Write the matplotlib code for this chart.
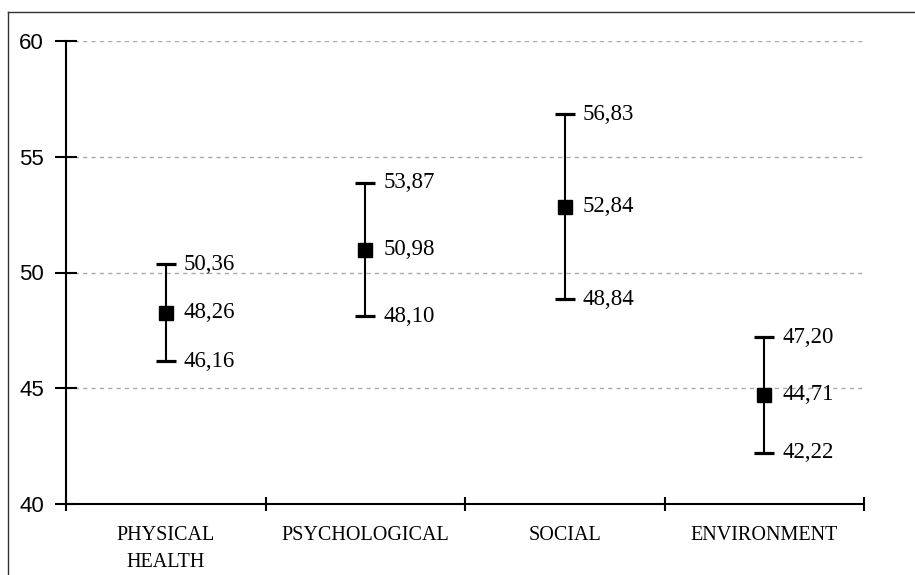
import numpy as np
import matplotlib.pyplot as plt
from matplotlib.lines import Line2D

categories = ['PHYSICAL\nHEALTH', 'PSYCHOLOGICAL', 'SOCIAL', 'ENVIRONMENT']
means = [48.26, 50.98, 52.84, 44.71]
upper = [50.36, 53.87, 56.83, 47.20]
lower = [46.16, 48.10, 48.84, 42.22]
yticks = [40, 45, 50, 55, 60]

fig = plt.figure(figsize=(9.15, 5.75), dpi=100)
ax = fig.add_axes([66/915, 71/575, 798/915, 463/575])

# frame around the chart (cut at right / bottom)
fig.add_artist(Line2D([8/915, 8/915], [0, 563/575], transform=fig.transFigure,
                      color='#333333', lw=1))
fig.add_artist(Line2D([8/915, 1], [563/575, 563/575], transform=fig.transFigure,
                      color='#333333', lw=1))

x = np.arange(len(categories))
m = np.array(means)
err = [m - np.array(lower), np.array(upper) - m]

for yv in yticks[1:]:
    ax.axhline(yv, color='#aaaaaa', lw=1, ls=(0, (3, 3)), zorder=0)

ax.errorbar(x, means, yerr=err, fmt='s', color='black', ms=10,
            ecolor='black', elinewidth=1.5, capsize=7.5, capthick=2.3, zorder=3)

for i in range(len(x)):
    for v in (means[i], upper[i], lower[i]):
        ax.annotate(f'{v:.2f}'.replace('.', ','), (x[i], v), xytext=(13, 0),
                    textcoords='offset points', va='center', ha='left',
                    family='Liberation Serif', fontsize=16.5)

ax.set_xlim(-0.5, 3.5)
ax.set_ylim(40, 60)
ax.set_yticks(yticks)
ax.set_xticks([-0.5, 0.5, 1.5, 2.5, 3.5])
ax.set_xticklabels([])
ax.set_xticks(x, minor=True)
ax.set_xticklabels(categories, minor=True, family='Liberation Serif', fontsize=14.5,
                   linespacing=1.55, va='top')
ax.tick_params(axis='x', which='minor', length=0, pad=16)
ax.tick_params(axis='x', which='major', direction='inout', length=10, width=1.5)
ax.tick_params(axis='y', direction='inout', length=16, width=1.5, pad=8,
               labelsize=16)
for lab in ax.get_yticklabels():
    lab.set_family('Liberation Sans')

for s in ['top', 'right']:
    ax.spines[s].set_visible(False)
for s in ['left', 'bottom']:
    ax.spines[s].set_linewidth(1.5)

fig.savefig('out.png', dpi=100)
